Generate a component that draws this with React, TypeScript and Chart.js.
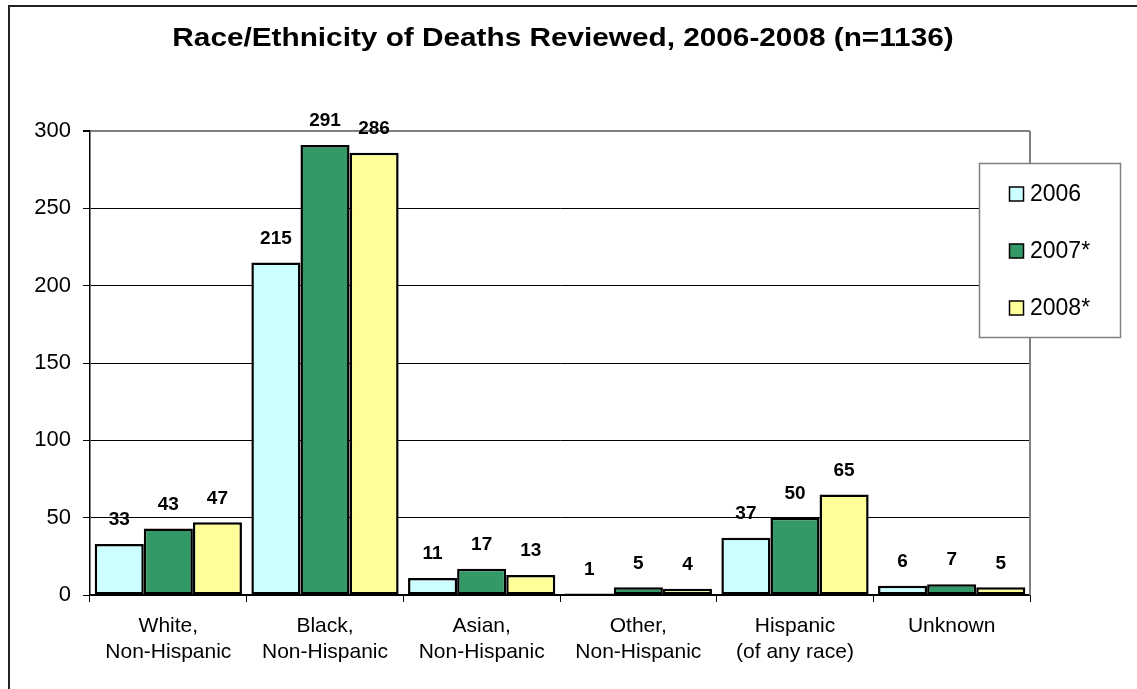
import { useEffect, useRef } from "react";
import { Chart, registerables } from "chart.js";

Chart.register(...registerables);

// Categories (multi-line tick labels) and yearly counts
const categories: string[][] = [
  ["White,", "Non-Hispanic"],
  ["Black,", "Non-Hispanic"],
  ["Asian,", "Non-Hispanic"],
  ["Other,", "Non-Hispanic"],
  ["Hispanic", "(of any race)"],
  ["Unknown"],
];
const seriesNames = ["2006", "2007*", "2008*"];
const deaths2006 = [33, 215, 11, 1, 37, 6];
const deaths2007 = [43, 291, 17, 5, 50, 7];
const deaths2008 = [47, 286, 13, 4, 65, 5];
const seriesColors = ["#CCFFFF", "#339966", "#FFFF99"];
const yTicks = [0, 50, 100, 150, 200, 250, 300];
const titleText = "Race/Ethnicity of Deaths Reviewed, 2006-2008 (n=1136)";

const FONT = '"Liberation Sans", Arial, Helvetica, sans-serif';
const W = 1137;
const H = 689;

// Page background, outer frame, title, plot border, value labels and legend
const decorations = {
  id: "decorations",
  beforeDraw(chart: any) {
    const { ctx } = chart;
    ctx.save();
    ctx.fillStyle = "#ffffff";
    ctx.fillRect(0, 0, chart.width, chart.height);
    // outer frame (left and top edges visible)
    ctx.strokeStyle = "#222222";
    ctx.lineWidth = 2;
    ctx.beginPath();
    ctx.moveTo(9, chart.height + 2);
    ctx.lineTo(9, 6);
    ctx.lineTo(chart.width + 2, 6);
    ctx.stroke();
    // title
    ctx.fillStyle = "#000000";
    ctx.font = `bold 25px ${FONT}`;
    ctx.textAlign = "center";
    ctx.textBaseline = "alphabetic";
    ctx.translate(563, 46);
    ctx.scale(1.19, 1);
    ctx.fillText(titleText, 0, 0);
    ctx.restore();
  },
  beforeDatasetsDraw(chart: any) {
    const { ctx, chartArea } = chart;
    ctx.save();
    ctx.strokeStyle = "#808080";
    ctx.lineWidth = 2;
    ctx.beginPath();
    ctx.moveTo(chartArea.right, chartArea.top);
    ctx.lineTo(chartArea.right, chartArea.bottom);
    ctx.stroke();
    ctx.restore();
  },
  afterDatasetsDraw(chart: any) {
    const { ctx } = chart;
    ctx.save();
    ctx.fillStyle = "#000000";
    ctx.font = `bold 19px ${FONT}`;
    ctx.textAlign = "center";
    ctx.textBaseline = "middle";
    chart.data.datasets.forEach((ds: any, i: number) => {
      const meta = chart.getDatasetMeta(i);
      meta.data.forEach((bar: any, j: number) => {
        ctx.fillText(String(ds.data[j]), bar.x, bar.y - 24);
      });
    });
    ctx.restore();
  },
  afterDraw(chart: any) {
    const { ctx } = chart;
    ctx.save();
    // legend box
    const bx = 979.5, by = 163.5, bw = 141, bh = 174;
    ctx.fillStyle = "#ffffff";
    ctx.fillRect(bx, by, bw, bh);
    ctx.strokeStyle = "#808080";
    ctx.lineWidth = 1.5;
    ctx.strokeRect(bx, by, bw, bh);
    ctx.font = `23px ${FONT}`;
    ctx.textAlign = "left";
    ctx.textBaseline = "middle";
    const rows = [194, 251, 308];
    chart.data.datasets.forEach((ds: any, i: number) => {
      const cy = rows[i];
      ctx.fillStyle = ds.backgroundColor;
      ctx.fillRect(1009.5, cy - 7, 14, 14);
      ctx.strokeStyle = "#000000";
      ctx.lineWidth = 1.5;
      ctx.strokeRect(1009.5, cy - 7, 14, 14);
      ctx.fillStyle = "#000000";
      ctx.fillText(ds.label, 1030, cy + 1);
    });
    ctx.restore();
  },
};

export default function App() {
  const canvasRef = useRef<HTMLCanvasElement | null>(null);

  useEffect(() => {
    const canvas = canvasRef.current;
    if (!canvas) return;
    const seriesData = [deaths2006, deaths2007, deaths2008];
    const chart = new Chart(canvas, {
      type: "bar",
      data: {
        labels: categories,
        datasets: seriesNames.map((name, i) => ({
          label: name,
          data: seriesData[i],
          backgroundColor: seriesColors[i],
          borderColor: "#000000",
          borderWidth: 2.5,
          borderSkipped: false,
          categoryPercentage: 0.94,
          barPercentage: 1,
        })),
      },
      options: {
        responsive: false,
        animation: false,
        devicePixelRatio: 1,
        layout: { padding: { top: 131, right: 107, left: 0, bottom: 0 } },
        plugins: {
          legend: { display: false },
          title: { display: false },
          tooltip: { enabled: false },
        },
        scales: {
          x: {
            afterFit(scale: any) {
              scale.height = 94;
            },
            grid: {
              offset: true,
              drawOnChartArea: false,
              drawTicks: true,
              tickLength: 7,
              color: "#000000",
              lineWidth: 1,
            },
            border: { display: true, color: "#000000", width: 1.5 },
            ticks: {
              color: "#000000",
              font: { family: FONT, size: 21, lineHeight: 1.24 },
              padding: 11,
              maxRotation: 0,
              autoSkip: false,
            },
          },
          y: {
            min: 0,
            max: 300,
            afterFit(scale: any) {
              scale.width = 90;
            },
            afterBuildTicks(scale: any) {
              scale.ticks = yTicks.map((v) => ({ value: v }));
            },
            grid: {
              color: (c: any) => (c.tick && c.tick.value === 300 ? "#808080" : "#000000"),
              lineWidth: (c: any) => (c.tick && c.tick.value === 300 ? 2 : 1),
              tickColor: "#000000",
              tickLength: 7,
              drawTicks: true,
            },
            border: { display: true, color: "#000000", width: 1.5 },
            ticks: {
              color: "#000000",
              font: { family: FONT, size: 22 },
              padding: 12,
            },
          },
        },
      },
      plugins: [decorations],
    });
    return () => chart.destroy();
  }, []);

  return (
    <div style={{ position: "absolute", left: 0, top: 0, width: W, height: H, overflow: "hidden", background: "#fff" }}>
      <canvas ref={canvasRef} width={W} height={H} style={{ display: "block", width: W, height: H }} />
    </div>
  );
}
